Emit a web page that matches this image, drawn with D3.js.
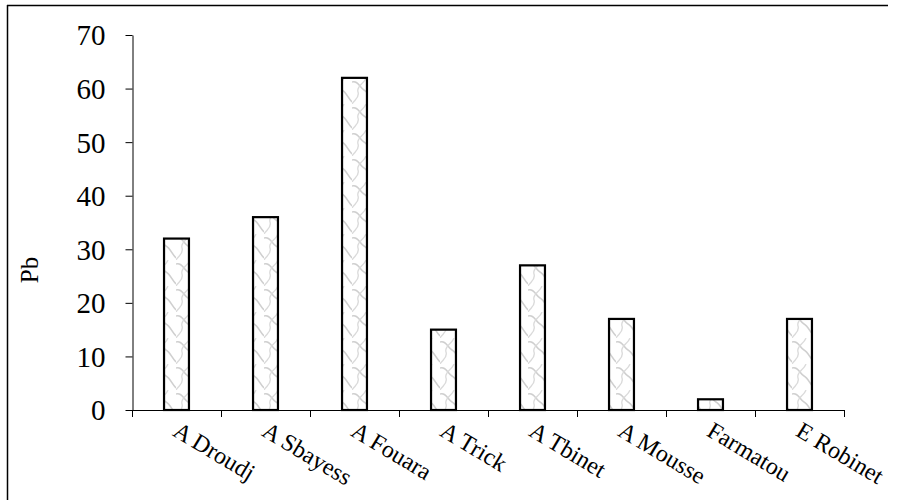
<!DOCTYPE html>
<html><head><meta charset="utf-8">
<script src="https://cdn.jsdelivr.net/npm/d3@7"></script>
<style>body{margin:0;background:#fff}svg{display:block}
svg text{font-family:"Liberation Serif","Times New Roman",serif;fill:#000}</style>
</head><body>
<svg id="c" width="898" height="500"></svg>
<script>
const categories = ["A Droudj","A Sbayess","A Fouara","A Trick","A Tbinet","A Mousse","Farmatou","E Robinet"];
const values = [32,36,62,15,27,17,2,17];
const yTicks = [0,10,20,30,40,50,60,70];
const yLabel = "Pb";

const svg = d3.select("#c");
const font = '"Liberation Serif","Times New Roman",serif';

// pattern
const defs = svg.append("defs");
const pat = defs.append("pattern").attr("id","wave").attr("patternUnits","userSpaceOnUse")
  .attr("width",22).attr("height",26);
pat.append("rect").attr("width",22).attr("height",26).attr("fill","#fff");
pat.append("path").attr("d","M0,4 C6,2 8,10 12,12 C16,14 18,20 22,24")
  .attr("fill","none").attr("stroke","#cfcfcf").attr("stroke-width",1.6);
pat.append("path").attr("d","M14,0 C12,6 4,8 6,14 C8,20 2,22 0,26")
  .attr("fill","none").attr("stroke","#dadada").attr("stroke-width",1.3);

// frame
svg.append("line").attr("x1",7.5).attr("x2",7.5).attr("y1",5).attr("y2",500).attr("stroke","#000").attr("stroke-width",1.5);
svg.append("line").attr("x1",7).attr("x2",888).attr("y1",5.5).attr("y2",5.5).attr("stroke","#000").attr("stroke-width",1.3);

const x = d3.scaleBand().domain(categories).range([132,844]).paddingInner(0.72).paddingOuter(0.36);
const xt = d3.scaleLinear().domain([0,categories.length]).range([132,844]);
const y = d3.scaleLinear().domain([0,70]).range([410,35]);

// y axis
const ya = svg.append("g").attr("transform","translate(132.5,0)")
  .call(d3.axisLeft(y).tickValues(yTicks).tickSize(7).tickSizeOuter(0).tickPadding(20));
ya.attr("font-family",null).attr("font-size",null);
ya.select(".domain").attr("stroke","#000");
ya.selectAll("line").attr("stroke","#000");
ya.selectAll("text").style("font-family",font).style("font-size","29px").attr("fill","#000").attr("dy","0.34em");

// x axis line
svg.append("line").attr("x1",132).attr("x2",844).attr("y1",y(0)+0.5).attr("y2",y(0)+0.5).attr("stroke","#000").attr("stroke-width",1);
svg.selectAll(".xt").data(d3.range(categories.length+1)).join("line")
  .attr("x1",d=>Math.round(xt(d))+0.5).attr("x2",d=>Math.round(xt(d))+0.5)
  .attr("y1",y(0)).attr("y2",y(0)+7).attr("stroke","#000");

// bars
svg.selectAll(".bar").data(values).join("rect")
  .attr("x",(d,i)=>x(categories[i])).attr("width",x.bandwidth())
  .attr("y",d=>y(d)).attr("height",d=>y(0)-y(d))
  .attr("fill","url(#wave)").attr("stroke","#000").attr("stroke-width",2.2);

// x labels
svg.selectAll(".xl").data(categories).join("text")
  .attr("transform",d=>`translate(${x(d)+x.bandwidth()/2-5},${y(0)+25}) rotate(31)`)
  .style("font-family",font).style("font-size","24px")
  .text(d=>d);

// y label
svg.append("text").attr("transform","translate(38,270) rotate(-90)")
  .attr("text-anchor","middle").style("font-family",font).style("font-size","25px").text(yLabel);
</script>
</body></html>
